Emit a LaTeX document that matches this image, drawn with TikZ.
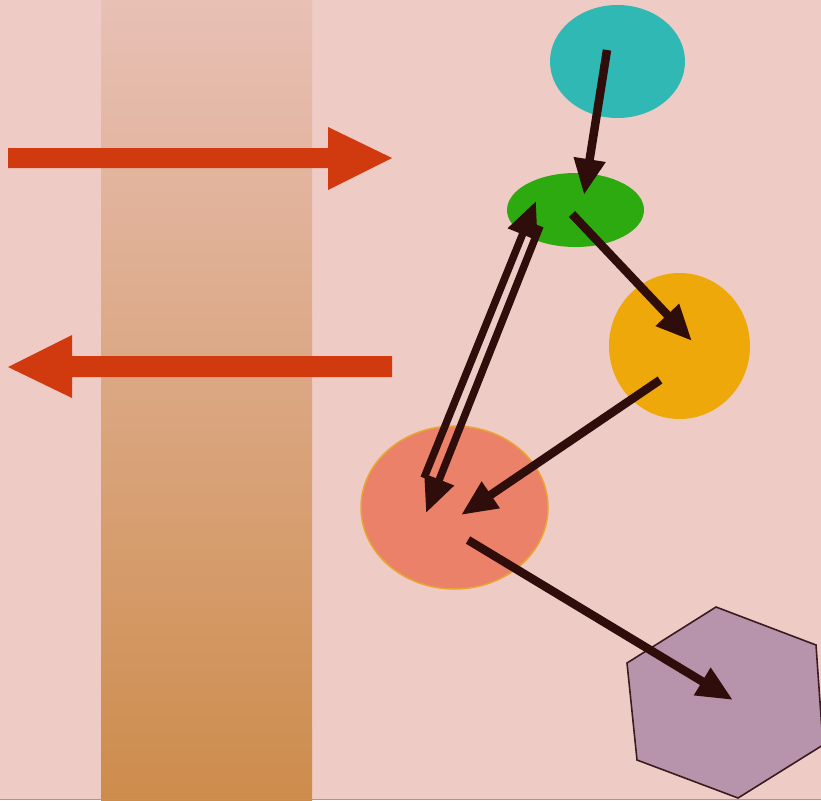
\documentclass[tikz,border=0pt]{standalone}
\usetikzlibrary{arrows.meta,shapes.geometric,calc}
\definecolor{bg}{HTML}{EFCBC5}
\definecolor{bandtop}{HTML}{E8C0B5}
\definecolor{bandbot}{HTML}{CD8C4C}
\definecolor{redarr}{HTML}{D13A0F}
\definecolor{cyanfill}{HTML}{30B9B4}
\definecolor{greenfill}{HTML}{2DAA10}
\definecolor{orangefill}{HTML}{EEA80A}
\definecolor{salmonfill}{HTML}{EC816A}
\definecolor{salmonline}{HTML}{E9A530}
\definecolor{hexfill}{HTML}{B894AC}
\definecolor{hexline}{HTML}{3A1C20}
\definecolor{darkarr}{HTML}{2E0D0B}
\definecolor{bottomrule}{HTML}{C8905A}
\tikzset{
  blob/.style={ellipse, inner sep=0pt, draw=none},
  conn/.style={draw=darkarr, line width=8.5pt, -{Triangle[length=36pt,width=30pt]}},
  bigarrow/.style={fill=redarr, draw=none}
}
\begin{document}
\begin{tikzpicture}[x=1pt,y=-1pt]
\useasboundingbox (0,0) rectangle (821,800);
\fill[bg] (0,0) rectangle (821,800);
% vertical band
\shade[top color=bandtop, bottom color=bandbot] (101,0) rectangle (312,800);
\draw[draw=bottomrule, line width=1.2pt] (0,799.4) -- (821,799.4);
% big red arrows
\fill[bigarrow] (8,148) -- (328,148) -- (328,127) -- (392,158) -- (328,190) -- (328,168) -- (8,168) -- cycle;
\fill[bigarrow] (392,356) -- (72,356) -- (72,335) -- (8,367) -- (72,398) -- (72,377) -- (392,377) -- cycle;
% nodes
\node[blob, fill=cyanfill, minimum width=135pt, minimum height=113pt] (cy) at (617.5,61.5) {};
\node[blob, fill=greenfill, minimum width=137pt, minimum height=74pt] (gr) at (575.5,210) {};
\node[blob, fill=orangefill, minimum width=141pt, minimum height=146pt] (or) at (679.5,346) {};
\node[blob, fill=salmonfill, draw=salmonline, line width=1.5pt, minimum width=187pt, minimum height=163pt] (sa) at (454.5,507.5) {};
\fill[hexfill, draw=hexline, line width=1.6pt] (716,607) -- (816,645) -- (823,745) -- (738,798) -- (637,760) -- (627,663) -- cycle;
\coordinate (hx) at (727,702);
% connectors
\draw[conn] ($(cy.center)+(-10.5,-11.5)$) -- ($(gr.center)+(8.5,-15)$);
\draw[conn] ($(gr.center)+(-3.5,4)$) -- ($(or.center)+(12.5,-5)$);
\draw[conn] ($(or.center)+(-19.5,34)$) -- ($(sa.center)+(6.5,7.5)$);
\draw[conn] ($(sa.center)+(13.5,32.5)$) -- ($(hx)+(6,-2)$);
\draw[conn, line width=7.5pt] ($(sa.center)+(-30.5,-29.5)$) -- ($(gr.center)+(-39.5,-9)$);
\draw[conn, line width=7.5pt] ($(gr.center)+(-35.5,16)$) -- ($(sa.center)+(-28.5,5.5)$);
\end{tikzpicture}
\end{document}
